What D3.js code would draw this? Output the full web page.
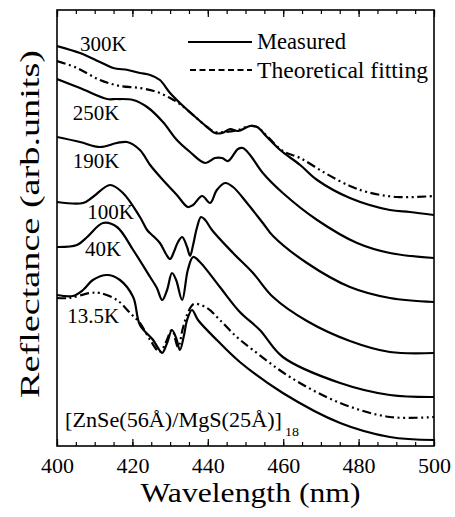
<!DOCTYPE html>
<html><head><meta charset="utf-8">
<script src="https://cdn.jsdelivr.net/npm/d3@7"></script>
<style>
html,body{margin:0;padding:0;background:#fff;}
text{font-family:"Liberation Serif","Times New Roman",serif;fill:#000;}
</style></head>
<body><svg id="chart" width="455" height="517"></svg>
<script>
// ---- data (wavelength in nm, reflectance in arb. units) ----
const xTicks = [400, 420, 440, 460, 480, 500];

const wl_300K = [400,406.1,411.4,414.9,418.8,422.0,424.7,427.3,430.0,432.6,436.1,439.8,441.9,443.8,445.9,448.0,451.2,453.1,455.7,459.2,464.5,469.0,477.7,488.3,493.6,500];
const r_300K  = [4.00,3.93,3.84,3.78,3.76,3.73,3.71,3.66,3.53,3.43,3.31,3.19,3.13,3.13,3.17,3.15,3.20,3.19,3.09,2.96,2.81,2.66,2.48,2.36,2.34,2.31];

const wl_300Kfit = [400,405.3,411.4,416.7,422.0,426.5,430.0,432.6,436.1,439.8,441.9,444.6,448.0,451.2,453.1,455.7,459.9,464.5,471.1,477.7,482.2,490.2,500];
const r_300Kfit  = [3.85,3.78,3.66,3.60,3.58,3.54,3.48,3.42,3.31,3.19,3.14,3.14,3.16,3.20,3.19,3.10,2.95,2.88,2.73,2.60,2.54,2.49,2.50];

const wl_250K = [400,406.1,413.3,415.9,420.2,423.9,428.1,431.8,435.3,439.3,441.9,443.8,445.4,448.0,449.3,451.2,454.6,459.9,469.0,479.6,488.3,500];
const r_250K  = [3.67,3.58,3.47,3.47,3.46,3.39,3.24,3.06,2.94,2.83,2.88,2.88,2.85,2.97,2.98,2.91,2.73,2.53,2.26,2.03,1.93,1.88];

const wl_190K = [400,406.1,411.4,415.9,418.6,422.0,424.7,428.1,431.8,434.7,436.1,438.5,440.6,442.4,444.6,446.7,450.4,454.6,457.3,466.3,477.7,488.3,500];
const r_190K  = [3.09,3.04,2.99,3.03,3.04,2.96,2.81,2.66,2.51,2.39,2.41,2.50,2.43,2.56,2.63,2.59,2.43,2.23,2.10,1.83,1.59,1.48,1.44];

const wl_100K = [400,406.9,409.5,414.1,417.5,422.0,423.9,425.5,427.3,428.9,430.0,431.0,432.1,433.2,434.5,435.3,436.1,437.1,438.2,439.3,441.1,446.7,452.0,457.3,466.3,477.7,488.3,500];
const r_100K  = [2.44,2.43,2.49,2.61,2.53,2.29,2.16,2.10,2.03,1.92,1.87,1.94,2.04,2.09,1.99,1.90,2.01,2.18,2.29,2.26,2.16,1.93,1.73,1.49,1.25,1.05,0.94,0.93];

const wl_40K = [400,405.3,408.0,412.2,415.9,420.2,424.7,426.5,427.9,429.2,430.5,431.6,433.2,434.7,436.1,437.9,443.2,448.5,453.8,459.9,475.1,488.3,500];
const r_40K  = [1.99,2.01,2.09,2.23,2.19,1.96,1.69,1.58,1.46,1.56,1.73,1.66,1.46,1.76,1.89,1.84,1.59,1.34,1.16,0.89,0.63,0.51,0.49];

const wl_13K = [400,404.2,406.9,409.5,413.3,416.7,420.2,422.0,425.5,426.8,427.9,429.2,430.5,431.6,432.6,433.7,434.5,435.8,437.4,442.4,448.5,459.9,475.1,488.3,500];
const r_13K  = [1.51,1.50,1.56,1.66,1.71,1.66,1.49,1.21,1.06,0.98,0.93,1.03,1.16,1.08,0.96,1.11,1.26,1.36,1.26,1.06,0.84,0.53,0.23,0.09,0.06];

const wl_13Kfit = [400,403.4,408.8,411.4,415.9,419.4,422.0,424.7,427.3,428.9,430.5,432.1,433.4,434.7,436.3,439.8,443.2,447.7,452.0,461.8,475.1,488.3,500];
const r_13Kfit  = [1.48,1.48,1.53,1.53,1.46,1.33,1.23,1.06,0.94,1.04,1.16,0.99,1.18,1.33,1.42,1.38,1.26,1.09,0.96,0.69,0.43,0.29,0.29];

const tempLabels = ["300K","250K","190K","100K","40K","13.5K"];
const legendLabels = ["Measured","Theoretical fitting"];

// ---- layout ----
const svg = d3.select("#chart");
const L = 57, R = 434, T = 10, B = 446;
const x = d3.scaleLinear().domain([400,500]).range([L,R]);
const y = d3.scaleLinear().domain([0,4.36]).range([B,T]);

const curves = [
  {wl: wl_300K, r: r_300K, fit: false},
  {wl: wl_300Kfit, r: r_300Kfit, fit: true},
  {wl: wl_250K, r: r_250K, fit: false},
  {wl: wl_190K, r: r_190K, fit: false},
  {wl: wl_100K, r: r_100K, fit: false},
  {wl: wl_40K, r: r_40K, fit: false},
  {wl: wl_13K, r: r_13K, fit: false},
  {wl: wl_13Kfit, r: r_13Kfit, fit: true}
];

svg.append("defs").append("clipPath").attr("id","clip")
  .append("rect").attr("x",L).attr("y",T).attr("width",R-L).attr("height",B-T);

const line = d3.line().x(d=>x(d[0])).y(d=>y(d[1])).curve(d3.curveCatmullRom.alpha(0.5));
const g = svg.append("g").attr("clip-path","url(#clip)");
curves.forEach(c=>{
  g.append("path").datum(c.wl.map((w,i)=>[w,c.r[i]]))
    .attr("d",line).attr("fill","none").attr("stroke","#000")
    .attr("stroke-width",2.2).attr("stroke-linejoin","round")
    .attr("stroke-dasharray", c.fit ? "9,3.5,2,3.5,2,3.5" : null);
});

// axes
const minor = d3.range(400,501,5);
function axisGroup(axis, ty){
  const a = svg.append("g").attr("transform",`translate(0,${ty})`).call(axis);
  a.select(".domain").remove();
  a.selectAll("line").attr("stroke","#000").attr("stroke-width",1.2);
  return a;
}
axisGroup(d3.axisBottom(x).tickValues(minor).tickSize(-4).tickFormat(""), B);
const xb = axisGroup(d3.axisBottom(x).tickValues(xTicks).tickSize(-7).tickPadding(11).tickFormat(d3.format("d")), B);
xb.selectAll("text").attr("font-size",22).attr("font-family","Liberation Serif, serif");
axisGroup(d3.axisTop(x).tickValues(minor).tickSize(-4).tickFormat(""), T);
axisGroup(d3.axisTop(x).tickValues(xTicks).tickSize(-7).tickFormat(""), T);

svg.append("rect").attr("x",L).attr("y",T).attr("width",R-L).attr("height",B-T)
  .attr("fill","none").attr("stroke","#000").attr("stroke-width",1.6);

// axis titles
svg.append("text").attr("x",(L+R)/2+5).attr("y",502).attr("text-anchor","middle")
  .attr("font-size",28).attr("textLength",220).attr("lengthAdjust","spacingAndGlyphs")
  .text("Wavelength (nm)");
svg.append("text").attr("transform","translate(39,224) rotate(-90)").attr("text-anchor","middle")
  .attr("font-size",28).attr("textLength",348).attr("lengthAdjust","spacingAndGlyphs")
  .text("Reflectance (arb.units)");

// temperature labels (positioned in data coordinates)
const labelPos = [[406.1,3.95],[404.2,3.26],[404.2,2.78],[408.0,2.27],[407.4,1.90],[402.7,1.23]];
tempLabels.forEach((t,i)=>{
  svg.append("text").attr("x",x(labelPos[i][0])).attr("y",y(labelPos[i][1]))
    .attr("font-size",21).text(t);
});

// legend
const lg = svg.append("g");
lg.append("line").attr("x1",188).attr("x2",252).attr("y1",42).attr("y2",42)
  .attr("stroke","#000").attr("stroke-width",2);
lg.append("line").attr("x1",190).attr("x2",252).attr("y1",70).attr("y2",70)
  .attr("stroke","#000").attr("stroke-width",2).attr("stroke-dasharray","6,3.5");
lg.append("text").attr("x",257).attr("y",49).attr("font-size",23)
  .attr("textLength",89).attr("lengthAdjust","spacingAndGlyphs").text(legendLabels[0]);
lg.append("text").attr("x",257).attr("y",78).attr("font-size",23)
  .attr("textLength",171).attr("lengthAdjust","spacingAndGlyphs").text(legendLabels[1]);

// sample annotation
svg.append("text").attr("x",65).attr("y",427).attr("font-size",22)
  .attr("textLength",217).attr("lengthAdjust","spacingAndGlyphs")
  .text("[ZnSe(56Å)/MgS(25Å)]");
svg.append("text").attr("x",285).attr("y",436).attr("font-size",13)
  .attr("textLength",14).attr("lengthAdjust","spacingAndGlyphs").text("18");
</script></body></html>
